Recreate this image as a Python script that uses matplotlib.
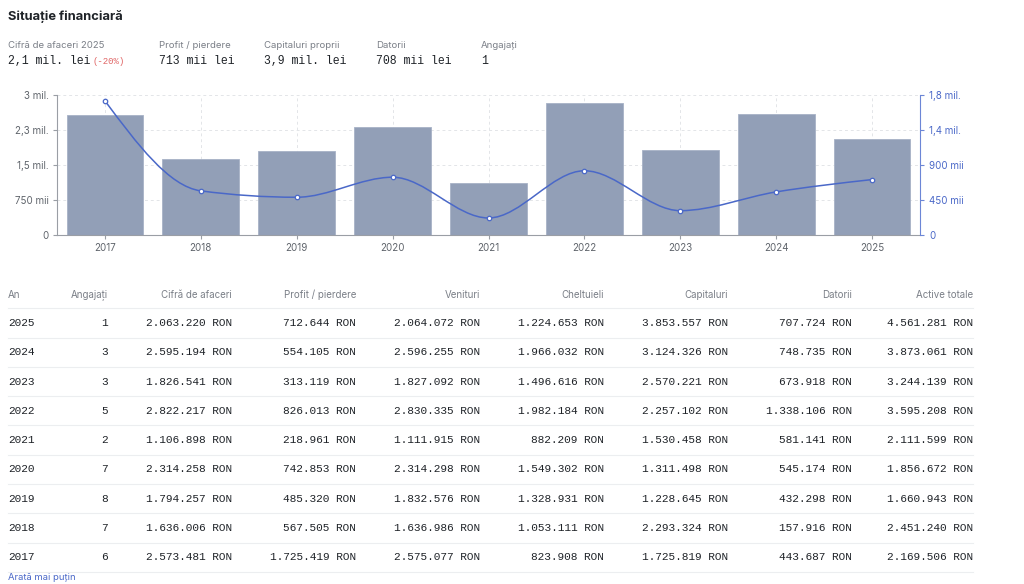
import matplotlib
matplotlib.use("Agg")
import matplotlib.pyplot as plt
import numpy as np
from matplotlib.path import Path
from matplotlib.patches import PathPatch
from matplotlib.lines import Line2D

# ---------------- data ----------------
years = [2017, 2018, 2019, 2020, 2021, 2022, 2023, 2024, 2025]
turnover = [2573481, 1636006, 1794257, 2314258, 1106898, 2822217, 1826541, 2595194, 2063220]
profit = [1725419, 567505, 485320, 742853, 218961, 826013, 313119, 554105, 712644]

left_ticks = [0, 750000, 1500000, 2250000, 3000000]
left_labels = ["0", "750 mii", "1,5 mil.", "2,3 mil.", "3 mil."]
right_ticks = [0, 450000, 900000, 1350000, 1800000]
right_labels = ["0", "450 mii", "900 mii", "1,4 mil.", "1,8 mil."]

kpi_labels = ["Cifră de afaceri 2025", "Profit / pierdere", "Capitaluri proprii", "Datorii", "Angajați"]
kpi_values = ["2,1 mil. lei", "713 mii lei", "3,9 mil. lei", "708 mii lei", "1"]
kpi_change = "(-20%)"

table_headers = ["An", "Angajați", "Cifră de afaceri", "Profit / pierdere", "Venituri",
                 "Cheltuieli", "Capitaluri", "Datorii", "Active totale"]
t_years = [2025, 2024, 2023, 2022, 2021, 2020, 2019, 2018, 2017]
t_employees = [1, 3, 3, 5, 2, 7, 8, 7, 6]
t_turnover = [2063220, 2595194, 1826541, 2822217, 1106898, 2314258, 1794257, 1636006, 2573481]
t_profit = [712644, 554105, 313119, 826013, 218961, 742853, 485320, 567505, 1725419]
t_revenues = [2064072, 2596255, 1827092, 2830335, 1111915, 2314298, 1832576, 1636986, 2575077]
t_expenses = [1224653, 1966032, 1496616, 1982184, 882209, 1549302, 1328931, 1053111, 823908]
t_equity = [3853557, 3124326, 2570221, 2257102, 1530458, 1311498, 1228645, 2293324, 1725819]
t_debts = [707724, 748735, 673918, 1338106, 581141, 545174, 432298, 157916, 443687]
t_assets = [4561281, 3873061, 3244139, 3595208, 2111599, 1856672, 1660943, 2451240, 2169506]

# ---------------- style ----------------
W, H = 1024, 584
SANS = ["Inter", "DejaVu Sans"]
MONO = ["Liberation Mono", "DejaVu Sans Mono"]
BAR_C = "#929fb7"
LINE_C = "#4a68c8"
GRAY = "#7a7f87"
DARK = "#1f2328"

fig = plt.figure(figsize=(W / 100, H / 100), dpi=100)
fig.patch.set_facecolor("white")


def fx(x):
    return x / W


def fy(y):
    return 1 - y / H


# title
fig.text(fx(8), fy(17), "Situație financiară", family=SANS, fontsize=9.3,
         fontweight="bold", color=DARK, va="center", ha="left")

# KPI row
kpi_x = [8, 159, 264, 376, 481]
for i, (lab, val) in enumerate(zip(kpi_labels, kpi_values)):
    fig.text(fx(kpi_x[i]), fy(45), lab, family=SANS, fontsize=6.9, color=GRAY,
             va="center", ha="left")
    fig.text(fx(kpi_x[i]), fy(61), val, family=MONO, fontsize=8.3, color=DARK,
             va="center", ha="left")
    if i == 0:
        fig.text(fx(93), fy(61), kpi_change, family=MONO, fontsize=6.5,
                 color="#e06666", va="center", ha="left")

# ---------------- chart ----------------
ax = fig.add_axes([fx(57), fy(235), (920 - 57) / W, 140 / H])
x = np.arange(len(years))
ax.bar(x, turnover, width=0.8, color=BAR_C, edgecolor="#a7b2c6", linewidth=0.6, zorder=2)
ax.set_xlim(-0.5, len(years) - 0.5)
ax.set_ylim(0, 3000000)
ax.set_yticks(left_ticks)
ax.set_yticklabels(left_labels)
ax.set_xticks(x)
ax.set_xticklabels([str(y) for y in years])
ax.set_axisbelow(True)
ax.grid(True, color="#e3e5e8", linestyle=(0, (3, 3)), linewidth=0.7)
for s in ["top", "right"]:
    ax.spines[s].set_visible(False)
ax.spines["left"].set_color("#9a9ea5")
ax.spines["bottom"].set_color("#9a9ea5")
ax.tick_params(axis="both", colors="#9a9ea5", labelcolor="#5f646b", labelsize=7,
               length=3, width=0.8, pad=3)
ax.tick_params(axis="x", pad=2.5)
for lab in ax.get_xticklabels() + ax.get_yticklabels():
    lab.set_family(SANS)

ax2 = ax.twinx()
ax2.set_ylim(0, 1800000)
ax2.set_yticks(right_ticks)
ax2.set_yticklabels(right_labels)
for s in ["top", "left", "bottom"]:
    ax2.spines[s].set_visible(False)
ax2.spines["right"].set_color("#6c86d6")
ax2.tick_params(axis="y", colors="#6c86d6", labelcolor="#4a68c8", labelsize=7,
                length=3, width=0.8, pad=3.5)
for lab in ax2.get_yticklabels():
    lab.set_family(SANS)

# monotone-X cubic curve (d3 style) through the profit points
xs = x.astype(float)
ys = np.array(profit, dtype=float)
n = len(xs)
tang = np.zeros(n)
for i in range(1, n - 1):
    h0 = xs[i] - xs[i - 1]
    h1 = xs[i + 1] - xs[i]
    s0 = (ys[i] - ys[i - 1]) / h0
    s1 = (ys[i + 1] - ys[i]) / h1
    p = (s0 * h1 + s1 * h0) / (h0 + h1)
    tang[i] = (np.sign(s0) + np.sign(s1)) * min(abs(s0), abs(s1), 0.5 * abs(p))
h = xs[1] - xs[0]
tang[0] = (3 * (ys[1] - ys[0]) / h - tang[1]) / 2
h = xs[-1] - xs[-2]
tang[-1] = (3 * (ys[-1] - ys[-2]) / h - tang[-2]) / 2
verts = [(xs[0], ys[0])]
codes = [Path.MOVETO]
for i in range(n - 1):
    dx = (xs[i + 1] - xs[i]) / 3
    verts += [(xs[i] + dx, ys[i] + dx * tang[i]),
              (xs[i + 1] - dx, ys[i + 1] - dx * tang[i + 1]),
              (xs[i + 1], ys[i + 1])]
    codes += [Path.CURVE4] * 3
ax2.add_patch(PathPatch(Path(verts, codes), facecolor="none", edgecolor=LINE_C,
                        linewidth=1.1, zorder=3))
ax2.plot(xs, ys, linestyle="none", marker="o", markersize=3.2, markerfacecolor="white",
         markeredgecolor=LINE_C, markeredgewidth=0.9, zorder=4)

# ---------------- table ----------------
col_right = [8, 108, 232, 356, 480, 604, 728, 852, 973]
header_y = 295
row_y0 = 323
row_h = 29.3


def fmt(v):
    return f"{v:,}".replace(",", ".") + " RON"


for j, hd in enumerate(table_headers):
    fig.text(fx(col_right[j]), fy(header_y), hd, family=SANS, fontsize=7.0, color=GRAY,
             va="center", ha="left" if j == 0 else "right")

sep_ys = [header_y + 13] + [row_y0 + row_h * i + 14.5 for i in range(len(t_years))]
for yy in sep_ys:
    fig.add_artist(Line2D([fx(8), fx(973)], [fy(yy), fy(yy)], color="#eceef0",
                          linewidth=0.8, transform=fig.transFigure))

cols = [t_turnover, t_profit, t_revenues, t_expenses, t_equity, t_debts, t_assets]
for i in range(len(t_years)):
    yy = row_y0 + row_h * i
    fig.text(fx(8), fy(yy), str(t_years[i]), family=MONO, fontsize=8.0, color=DARK,
             va="center", ha="left")
    fig.text(fx(col_right[1]), fy(yy), str(t_employees[i]), family=MONO, fontsize=8.0,
             color=DARK, va="center", ha="right")
    for k, c in enumerate(cols):
        fig.text(fx(col_right[k + 2]), fy(yy), fmt(c[i]), family=MONO, fontsize=8.0,
                 color=DARK, va="center", ha="right")

fig.text(fx(8), fy(578), "Arată mai puțin", family=SANS, fontsize=6.8,
         color="#4a68c8", va="center", ha="left")

fig.savefig("out.png", dpi=100, facecolor="white")
